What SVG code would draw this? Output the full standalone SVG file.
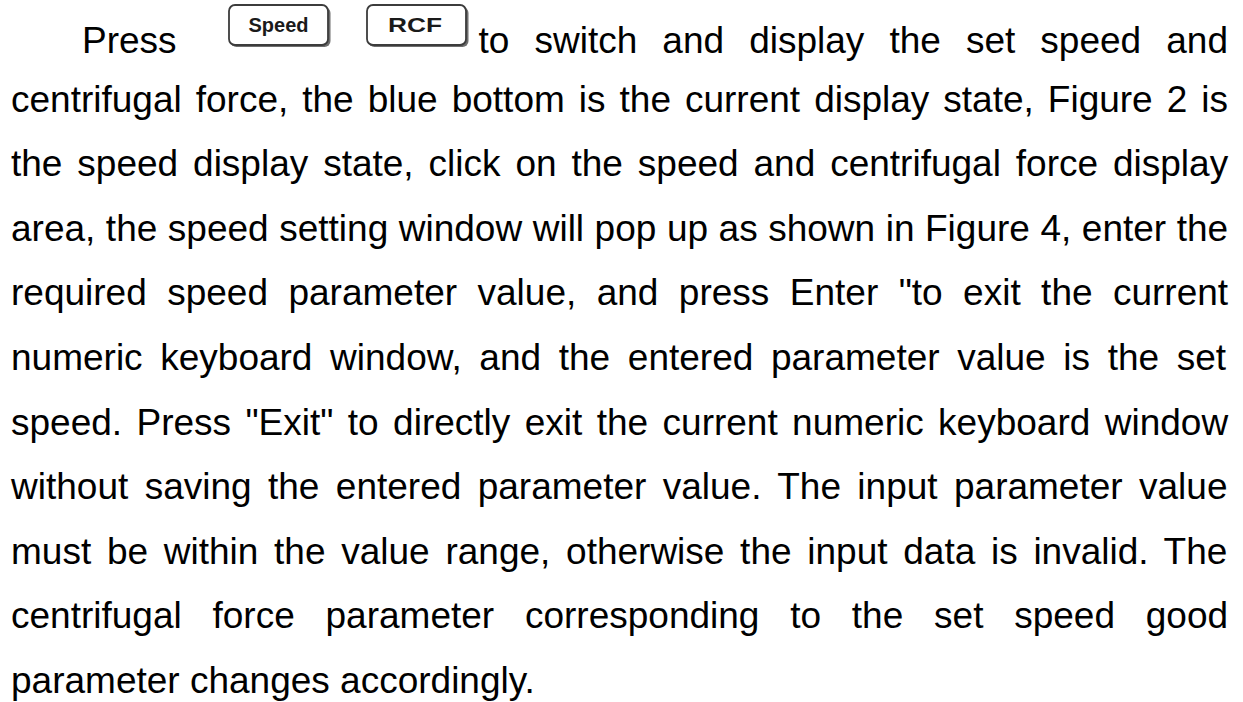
<svg xmlns="http://www.w3.org/2000/svg" width="1243" height="702" viewBox="0 0 1243 702">
<style>
.t{font-family:"Liberation Sans",Arial,sans-serif;font-size:37px;fill:#000;}
.bt{font-family:"Liberation Sans",Arial,sans-serif;font-size:20px;font-weight:bold;fill:#1a1a1a;text-anchor:middle;}
.box{fill:#fff;stroke:#3c3c3c;stroke-width:1.8;}
.sh{fill:#6e6e6e;}
</style>
<rect width="1243" height="702" fill="#fff"/>
<g id="btn-speed">
<rect class="sh" x="230.5" y="7" width="100" height="40" rx="6"/>
<rect class="box" x="229" y="5" width="99" height="40" rx="6"/>
<text class="bt" x="278.5" y="32" textLength="60" lengthAdjust="spacingAndGlyphs">Speed</text>
</g>
<g id="btn-rcf">
<rect class="sh" x="368.5" y="7" width="100" height="40" rx="6"/>
<rect class="box" x="367" y="5" width="99" height="40" rx="6"/>
<text class="bt" x="415" y="32" textLength="54" lengthAdjust="spacingAndGlyphs">RCF</text>
</g>
<g id="paragraph" xml:space="preserve">
<text class="t" x="82" y="53">Press</text>
<text class="t" x="478.5" y="53" word-spacing="14.8">to switch and display the set speed and</text>
<text class="t" x="11" y="111.5" word-spacing="3.73">centrifugal force, the blue bottom is the current display state, Figure 2 is</text>
<text class="t" x="11" y="176.1" word-spacing="4.63">the speed display state, click on the speed and centrifugal force display</text>
<text class="t" x="11" y="240.7" word-spacing="0.26">area, the speed setting window will pop up as shown in Figure 4, enter the</text>
<text class="t" x="11" y="305.3" word-spacing="10.16">required speed parameter value, and press Enter "to exit the current</text>
<text class="t" x="11" y="369.9" word-spacing="7.36">numeric keyboard window, and the entered parameter value is the set</text>
<text class="t" x="11" y="434.5" word-spacing="4.13">speed. Press "Exit" to directly exit the current numeric keyboard window</text>
<text class="t" x="11" y="499.1" word-spacing="6.12">without saving the entered parameter value. The input parameter value</text>
<text class="t" x="11" y="563.7" word-spacing="5.44">must be within the value range, otherwise the input data is invalid. The</text>
<text class="t" x="11" y="628.3" word-spacing="20.5">centrifugal force parameter corresponding to the set speed good</text>
<text class="t" x="11" y="692.5">parameter changes accordingly.</text>
</g>
</svg>
